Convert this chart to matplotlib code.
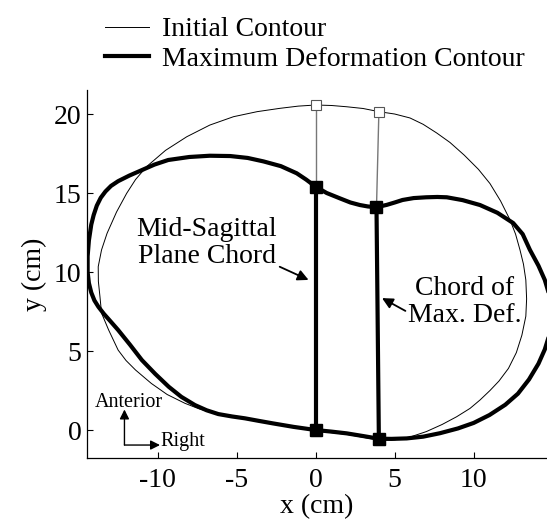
import numpy as np
import matplotlib
matplotlib.use('Agg')
import matplotlib.pyplot as plt

plt.rcParams['font.family'] = ['Liberation Serif', 'DejaVu Serif']
plt.rcParams['axes.unicode_minus'] = False

# initial contour (thin), counter-clockwise from the top
init_x = [0, -1.1, -2.26, -3.7, -5.2, -6.7, -8.16, -9.5, -10.7, -11.4, -11.96, -12.6,
          -13.2, -13.55, -13.76, -13.75, -13.65, -13.55, -13.1, -12.5, -12.0, -11.4,
          -10.4, -9.4, -8.27, -7.4, -6.58, -5.1, -4.0, -2.7, -1.4, 0, 2.0, 4.05, 5.0,
          5.8, 7.0, 8.0, 8.92, 9.77, 10.4, 11.03, 11.6, 12.2, 12.7, 13.05, 13.3, 13.35,
          13.3, 13.15, 12.93, 12.65, 12.3, 11.7, 11.03, 10.3, 9.4, 8.5, 7.66, 6.8, 5.97,
          5.0, 4.0, 3.0, 1.96, 1.0, 0]
init_y = [20.57, 20.5, 20.36, 20.15, 19.83, 19.3, 18.56, 17.7, 16.67, 15.85, 14.98, 13.8,
          12.45, 11.4, 10.34, 9.4, 8.44, 7.4, 6.33, 5.06, 4.4, 3.8,
          2.95, 2.25, 1.69, 1.35, 1.1, 0.89, 0.68, 0.45, 0.22, -0.05, -0.28, -0.65, -0.62,
          -0.5, -0.1, 0.35, 0.84, 1.37, 1.9, 2.5, 3.1, 3.9, 4.9, 6.0, 7.2, 8.3,
          9.5, 10.5, 11.4, 12.4, 13.3, 14.5, 15.6, 16.5, 17.4, 18.2, 18.8, 19.35, 19.75,
          20.0, 20.15, 20.35, 20.46, 20.54, 20.57]

# maximum deformation contour (thick)
def_x = [0, -0.6, -1.2, -2.2, -3.3, -4.3, -5.4, -6.7, -8.0, -9.33, -10.2, -11.0, -11.8,
         -12.5, -12.95, -13.3, -13.6, -13.85, -14.05, -14.2, -14.35, -14.43, -14.43,
         -14.35, -14.2, -14.0, -13.75, -13.4, -13.0, -12.5, -11.75, -11.0, -10.15, -9.3,
         -8.5, -7.64, -6.9, -6.16, -5.3, -4.47, -3.6, -2.7, -1.4, 0, 1.0, 1.96, 3.0, 4.0,
         4.8, 5.76, 6.8, 7.87, 9.0, 10.0, 11.0, 12.0, 12.8, 13.5, 14.1, 14.5, 14.75,
         14.9, 14.95, 14.8, 14.5, 14.1, 13.56, 13.1, 12.5, 11.5, 10.4, 9.3, 8.3, 7.7,
         7.0, 6.2, 5.5, 5.0, 4.5, 3.85, 3.3, 2.8, 2.2, 1.54, 0.7, 0]
def_y = [15.4, 15.85, 16.25, 16.7, 17.0, 17.22, 17.34, 17.36, 17.28, 17.09, 16.8, 16.45,
         16.1, 15.75, 15.45, 15.1, 14.7, 14.2, 13.6, 13.0, 12.0, 11.0, 10.0,
         9.3, 8.7, 8.2, 7.8, 7.35, 6.9, 6.33, 5.4, 4.43, 3.55, 2.74,
         2.1, 1.58, 1.25, 1.01, 0.86, 0.74, 0.58, 0.42, 0.2, 0.0, -0.1, -0.21, -0.38,
         -0.55, -0.56, -0.53, -0.42, -0.2, 0.1, 0.45, 0.95, 1.6, 2.3, 3.2, 4.2, 5.1,
         5.9, 6.7, 7.5, 8.5, 9.5, 10.4, 11.4, 12.4, 13.1, 13.75, 14.24, 14.55, 14.73,
         14.75, 14.73, 14.68, 14.56, 14.4, 14.25, 14.1, 14.15, 14.24, 14.4, 14.66, 15.0,
         15.4]

# chords: [bottom, top] of deformed and initial contour
mid_def_x = [0, 0]
mid_def_y = [0.0, 15.4]
mid_init_x = [0, 0]
mid_init_y = [-0.05, 20.57]
max_def_x = [4.0, 3.85]
max_def_y = [-0.55, 14.1]
max_init_x = [4.05, 4.0]
max_init_y = [-0.65, 20.1]

fig = plt.figure(figsize=(5.47, 5.25), dpi=100)
ax = fig.add_axes([87/547, 67/525, 460/547, 368/525])

ax.plot(init_x, init_y, color='k', lw=0.7, label='Initial Contour')
ax.plot([mid_def_x[1], mid_init_x[1]], [mid_def_y[1], mid_init_y[1]], color='#777777', lw=1.0)
ax.plot([max_def_x[1], max_init_x[1]], [max_def_y[1], max_init_y[1]], color='#777777', lw=1.0)
ax.plot([mid_init_x[0], mid_init_x[1], max_init_x[0], max_init_x[1]],
        [mid_init_y[0], mid_init_y[1], max_init_y[0], max_init_y[1]],
        ls='none', marker='s', ms=6.5, mfc='white', mec='#555555', mew=0.8)
ax.plot(def_x, def_y, color='k', lw=3, solid_joinstyle='round',
        label='Maximum Deformation Contour')
ax.plot(mid_def_x, mid_def_y, color='k', lw=3, marker='s', ms=9)
ax.plot(max_def_x, max_def_y, color='k', lw=3, marker='s', ms=9)

ax.annotate('Mid-Sagittal\nPlane Chord', xy=(-0.45, 9.5), xytext=(-6.9, 11.85),
            ha='center', va='center', fontsize=20, linespacing=1.1,
            arrowprops=dict(arrowstyle='-|>', color='k', lw=1.3, mutation_scale=16,
                            shrinkA=0, shrinkB=0, relpos=(0.97, 0.1)))
ax.annotate('Chord of\nMax. Def.', xy=(4.2, 8.35), xytext=(9.45, 8.1),
            ha='center', va='center', fontsize=20, linespacing=1.1,
            arrowprops=dict(arrowstyle='-|>', color='k', lw=1.3, mutation_scale=16,
                            shrinkA=0, shrinkB=0, relpos=(0.0, 0.3)))

# orientation arrows
ax.annotate('', xy=(-12.1, 1.3), xytext=(-12.1, -0.95),
            arrowprops=dict(arrowstyle='-|>', color='k', lw=1.0, mutation_scale=14,
                            shrinkA=0, shrinkB=0))
ax.annotate('', xy=(-9.85, -0.95), xytext=(-12.1, -0.95),
            arrowprops=dict(arrowstyle='-|>', color='k', lw=1.0, mutation_scale=14,
                            shrinkA=0, shrinkB=0))
ax.text(-14.0, 1.75, 'Anterior', fontsize=14.5, ha='left', va='center')
ax.text(-9.8, -0.75, 'Right', fontsize=14.5, ha='left', va='center')

ax.set_xlim(-14.47, 14.64)
ax.set_ylim(-1.77, 21.52)
ax.set_xticks([-10, -5, 0, 5, 10])
ax.set_yticks([0, 5, 10, 15, 20])
ax.tick_params(direction='in', length=4, width=0.8, labelsize=20)
ax.tick_params(axis='y', pad=4)
ax.tick_params(axis='x', pad=7)
for s in ['top', 'right']:
    ax.spines[s].set_visible(False)
for s in ['left', 'bottom']:
    ax.spines[s].set_linewidth(0.9)
ax.set_xlabel('x (cm)', fontsize=20, labelpad=1)
ax.set_ylabel('y (cm)', fontsize=20, labelpad=5)

fig.legend(loc='upper left', bbox_to_anchor=(0.156, 1.005), frameon=False, fontsize=20,
           handlelength=1.6, handletextpad=0.45, labelspacing=0.15, borderpad=0.2)

plt.savefig('out.png', dpi=100)
